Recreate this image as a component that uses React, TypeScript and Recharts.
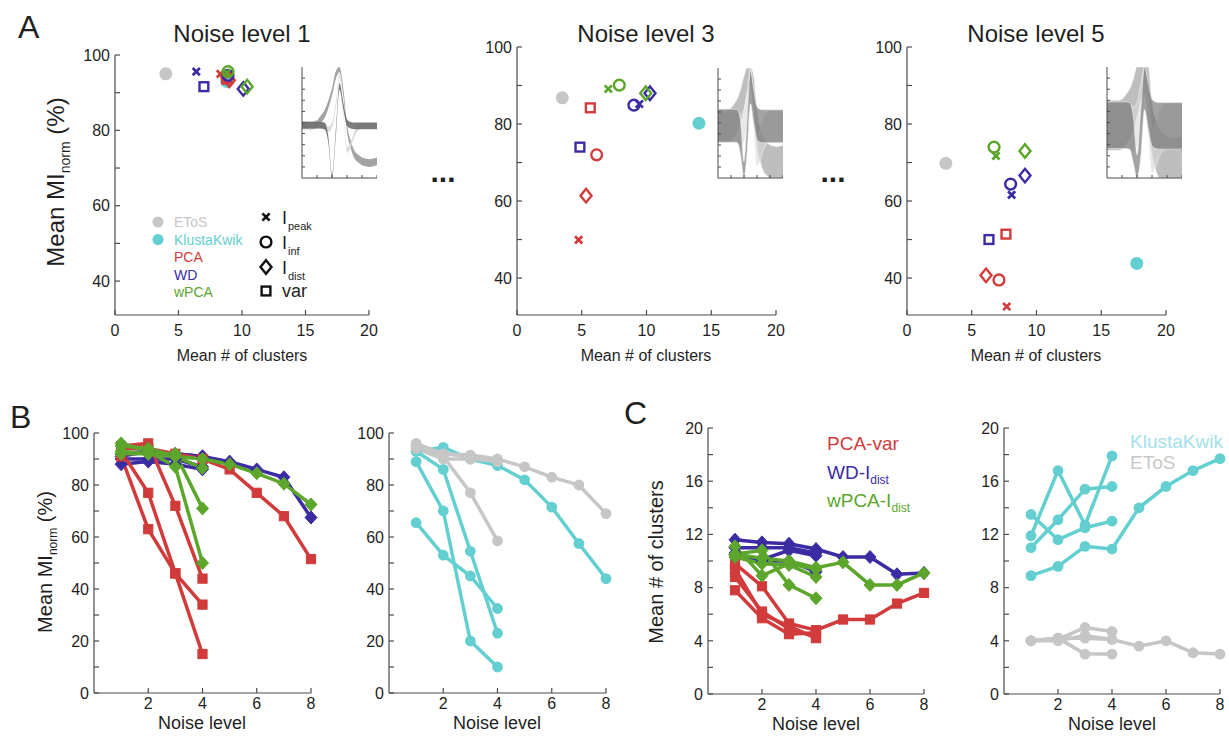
import React from "react";
import { Area, AreaChart, Line, LineChart, Scatter, ScatterChart, XAxis, YAxis } from "recharts";

const FONT = '"Liberation Sans", Arial, Helvetica, sans-serif';
const INK = "#1f1f1f";
const AXIS = "#4a4a4a";
const RED = "#d23b3b";
const BLUE = "#3b2ca3";
const GREEN = "#5ca62c";
const CYAN = "#64cfd0";
const GRAY = "#c6c6c6";

// ---------- panel A: [mean # clusters, mean MI_norm] ----------
// feature order for each method: I_peak, I_inf, I_dist, var (null = hidden)
type Pt = [number, number] | null;
const FEATURES = ["peak", "inf", "dist", "var"];

const L1_ETOS: Pt = [4.0, 95.0];
const L1_KK: Pt = [8.8, 93.0];
const L1_PCA: Pt[] = [[8.3, 95.0], [8.8, 94.2], [9.0, 93.3], [8.8, 93.6]];
const L1_WD: Pt[] = [[6.4, 95.6], [8.9, 94.6], [10.1, 91.0], [7.0, 91.6]];
const L1_WPCA: Pt[] = [[8.8, 95.3], [8.9, 95.6], [10.4, 91.6], null];

const L3_ETOS: Pt = [3.5, 86.8];
const L3_KK: Pt = [14.05, 80.2];
const L3_PCA: Pt[] = [[4.76, 49.9], [6.15, 72.0], [5.33, 61.4], [5.66, 84.2]];
const L3_WD: Pt[] = [[9.45, 85.2], [9.03, 84.9], [10.27, 88.0], [4.86, 74.0]];
const L3_WPCA: Pt[] = [[7.05, 89.1], [7.9, 90.1], [9.94, 88.0], null];

const L5_ETOS: Pt = [3.0, 69.8];
const L5_KK: Pt = [17.74, 43.8];
const L5_PCA: Pt[] = [[7.7, 32.6], [7.1, 39.5], [6.1, 40.7], [7.64, 51.4]];
const L5_WD: Pt[] = [[8.08, 61.6], [8.0, 64.4], [9.11, 66.6], [6.33, 50.0]];
const L5_WPCA: Pt[] = [[6.87, 71.7], [6.72, 74.0], [9.11, 73.0], null];

const A_XTICKS = [0, 5, 10, 15, 20];
const A_YTICKS = [40, 50, 60, 70, 80, 90, 100];

// inset waveforms (21 samples), three units
const SAMPLE = [0, 1, 2, 3, 4, 5, 6, 7, 8, 9, 10, 11, 12, 13, 14, 15, 16, 17, 18, 19, 20];
const WAVE_DARK = [-0.05, -0.05, -0.05, -0.05, -0.05, -0.05, -0.06, -0.3, -1.0, -0.2, 0.65, 0.3, 0.0, -0.05, -0.06, -0.06, -0.06, -0.06, -0.06, -0.06, -0.06];
const WAVE_MID = [-0.05, -0.05, -0.05, -0.05, -0.03, 0.05, 0.15, 0.32, 0.55, 0.85, 0.98, 0.55, -0.1, -0.4, -0.58, -0.65, -0.7, -0.72, -0.73, -0.72, -0.7];
const WAVE_LIGHT = [-0.06, -0.06, -0.06, -0.06, -0.06, -0.06, -0.08, -0.12, -0.05, 0.3, 0.85, 0.2, -0.5, -0.4, -0.2, -0.1, -0.06, -0.06, -0.06, -0.06, -0.06];
const BAND_L1 = [0.06, 0.07, 0.05];
const BAND_L3 = [0.3, 0.3, 0.28];
const BAND_L5 = [0.42, 0.45, 0.4];
const INSET_YTICKS = [-0.8, -0.6, -0.4, -0.2, 0, 0.2, 0.4, 0.6, 0.8];
const INSET_XTICKS = [4, 8, 12, 16, 20];

// ---------- panels B, C: per noise level ----------
const NOISE = [1, 2, 3, 4, 5, 6, 7, 8];
const LEVEL_XTICKS = [2, 4, 6, 8];

const PCA_VAR_MI = [
  [94, 94, 92, 90, 86, 77, 68, 51.5],
  [95, 96, 72, 44],
  [93, 77, 46, 15],
  [91, 63, 46, 34],
];
const WD_DIST_MI = [
  [92, 93, 92, 91, 89, 86, 83, 67.5],
  [88, 89, 88, 86],
  [91, 93, 92, 91],
  [90, 90, 90, 87],
];
const WPCA_DIST_MI = [
  [93, 92, 91, 90, 88, 84.5, 80.5, 72.5],
  [96, 93, 87, 50],
  [92, 92, 92, 71],
  [95, 94, 91, 86.5],
];
const KK_MI = [
  [93, 94.5, 90, 87.5, 82, 71.5, 57.5, 44],
  [89, 70, 20, 10],
  [93, 86, 54.5, 23],
  [65.5, 53, 45, 32.5],
];
const ETOS_MI = [
  [96, 92, 91.5, 90, 87, 83, 80, 69],
  [95, 91, 77, 58.5],
  [95, 92, 91, 89.5],
  [94, 90, 90, 89],
];

const PCA_VAR_NC = [
  [9.8, 8.1, 5.3, 4.8, 5.6, 5.6, 6.8, 7.6],
  [8.8, 6.2, 4.9, 4.3],
  [7.8, 5.7, 4.5, 4.6],
  [9.4, 6.0, 5.1, 4.2],
];
const WD_DIST_NC = [
  [11.6, 11.4, 11.3, 10.9, 10.3, 10.3, 9.0, 9.1],
  [10.5, 10.1, 10.8, 10.4],
  [10.6, 10.0, 10.0, 9.2],
  [11.0, 11.0, 11.0, 10.6],
];
const WPCA_DIST_NC = [
  [10.5, 10.2, 10.0, 9.5, 9.9, 8.2, 8.2, 9.1],
  [11.1, 8.9, 9.8, 9.4],
  [10.5, 10.8, 8.2, 7.2],
  [10.3, 9.8, 9.7, 8.8],
];
const KK_NC = [
  [8.9, 9.6, 11.1, 10.9, 14.0, 15.6, 16.8, 17.7],
  [13.5, 11.6, 12.5, 13.0],
  [11.9, 16.8, 12.7, 17.9],
  [11.0, 13.1, 15.4, 15.6],
];
const ETOS_NC = [
  [4.0, 4.2, 4.2, 4.1, 3.6, 4.0, 3.1, 3.0],
  [4.0, 4.1, 5.0, 4.7],
  [4.0, 4.2, 3.0, 3.0],
  [4.0, 4.0, 4.4, 4.1],
];

// ---------- layout ----------
const PAD_L = 60;
const PAD_T = 10;
const PAD_R = 16;
const PAD_B = 36;
const TICK = 5;

type Box = { x0: number; y0: number; x1: number; y1: number };

const yTick = (every: number) => (p: any) => {
  const v = Math.round(p.payload.value * 100) / 100;
  return (
    <g>
      <line x1={PAD_L} x2={PAD_L + TICK} y1={p.y} y2={p.y} stroke={AXIS} strokeWidth={1.2} />
      {v % every === 0 && (
        <text x={PAD_L - 5} y={p.y} dy="0.36em" textAnchor="end" fontSize={16} fill={INK} fontFamily={FONT}>
          {v}
        </text>
      )}
    </g>
  );
};

const xTick = (axisY: number, gap: number) => (p: any) => (
  <g>
    <line x1={p.x} x2={p.x} y1={axisY} y2={axisY - TICK} stroke={AXIS} strokeWidth={1.2} />
    <text x={p.x} y={axisY + gap} textAnchor="middle" fontSize={16} fill={INK} fontFamily={FONT}>
      {p.payload.value}
    </text>
  </g>
);

function Mark({ kind, color, cx, cy, filled = false }: any) {
  const sw = 2.4;
  if (kind === "dot") return <circle cx={cx} cy={cy} r={filled ? 5.4 : 6.5} fill={color} />;
  if (kind === "peak") {
    const d = 3.6;
    return (
      <path
        d={`M${cx - d},${cy - d}L${cx + d},${cy + d}M${cx - d},${cy + d}L${cx + d},${cy - d}`}
        stroke={color}
        strokeWidth={2.7}
      />
    );
  }
  if (kind === "inf") return <circle cx={cx} cy={cy} r={5.4} fill="none" stroke={color} strokeWidth={sw} />;
  if (kind === "dist") {
    const w = filled ? 6 : 5.5;
    const h = filled ? 6.5 : 6.8;
    return (
      <path
        d={`M${cx},${cy - h}L${cx + w},${cy}L${cx},${cy + h}L${cx - w},${cy}Z`}
        fill={filled ? color : "none"}
        stroke={color}
        strokeWidth={filled ? 1 : sw}
      />
    );
  }
  const s = filled ? 4.6 : 4.4;
  return (
    <rect
      x={cx - s}
      y={cy - s}
      width={2 * s}
      height={2 * s}
      fill={filled ? color : "none"}
      stroke={color}
      strokeWidth={filled ? 1 : sw}
    />
  );
}

function levelSeries(etos: Pt, kk: Pt, pca: Pt[], wd: Pt[], wpca: Pt[]) {
  const out: { key: string; pt: Pt; kind: string; color: string }[] = [
    { key: "etos", pt: etos, kind: "dot", color: GRAY },
    { key: "kk", pt: kk, kind: "dot", color: CYAN },
  ];
  const methods: [Pt[], string][] = [[pca, RED], [wd, BLUE], [wpca, GREEN]];
  methods.forEach(([arr, color], mi) =>
    arr.forEach((pt, fi) => out.push({ key: `m${mi}f${fi}`, pt, kind: FEATURES[fi], color }))
  );
  return out.filter((s) => s.pt);
}

function ClusterPanel({ box, yMin, series }: { box: Box; yMin: number; series: ReturnType<typeof levelSeries> }) {
  const w = box.x1 - box.x0 + PAD_L + PAD_R;
  const h = box.y1 - box.y0 + PAD_T + PAD_B;
  const axisY = PAD_T + box.y1 - box.y0;
  return (
    <div style={{ position: "absolute", left: box.x0 - PAD_L, top: box.y0 - PAD_T }}>
      <ScatterChart width={w} height={h} margin={{ top: PAD_T, right: PAD_R, left: 0, bottom: 0 }}>
        <XAxis
          type="number"
          dataKey="x"
          domain={[0, 20]}
          ticks={A_XTICKS}
          interval={0}
          height={PAD_B}
          tickLine={false}
          axisLine={{ stroke: AXIS, strokeWidth: 1.2 }}
          tick={xTick(axisY, 21)}
          allowDataOverflow
        />
        <YAxis
          type="number"
          dataKey="y"
          domain={[yMin, 100]}
          ticks={A_YTICKS}
          interval={0}
          width={PAD_L}
          tickLine={false}
          axisLine={{ stroke: AXIS, strokeWidth: 1.2 }}
          tick={yTick(20)}
          allowDataOverflow
        />
        {series.map((s) => (
          <Scatter
            key={s.key}
            data={[{ x: (s.pt as number[])[0], y: (s.pt as number[])[1] }]}
            isAnimationActive={false}
            shape={(p: any) => <Mark kind={s.kind} color={s.color} cx={p.cx} cy={p.cy} />}
          />
        ))}
      </ScatterChart>
    </div>
  );
}

const IN_PAD = 3;

function Inset({ box, band, edge, opacity }: { box: Box; band: number[]; edge: string; opacity: number }) {
  const w = box.x1 - box.x0;
  const h = box.y1 - box.y0;
  const lim = (v: number) => Math.max(-1, Math.min(1, v));
  const rows = SAMPLE.map((s, i) => ({
    s,
    dark: [lim(WAVE_DARK[i] - band[0]), lim(WAVE_DARK[i] + band[0])],
    mid: [lim(WAVE_MID[i] - band[1]), lim(WAVE_MID[i] + band[1])],
    light: [lim(WAVE_LIGHT[i] - band[2]), lim(WAVE_LIGHT[i] + band[2])],
  }));
  const axisY = h;
  return (
    <div style={{ position: "absolute", left: box.x0 - IN_PAD, top: box.y0 }}>
      <AreaChart width={w + IN_PAD} height={h + IN_PAD} data={rows} margin={{ top: 0, right: 0, left: 0, bottom: 0 }}>
        <XAxis
          type="number"
          dataKey="s"
          domain={[0, 20]}
          ticks={INSET_XTICKS}
          interval={0}
          height={IN_PAD}
          tickLine={false}
          axisLine={{ stroke: AXIS, strokeWidth: 1 }}
          tick={(p: any) => <line x1={p.x} x2={p.x} y1={axisY} y2={axisY - 3} stroke={AXIS} />}
        />
        <YAxis
          type="number"
          domain={[-1, 1]}
          ticks={INSET_YTICKS}
          interval={0}
          width={IN_PAD}
          tickLine={false}
          axisLine={{ stroke: AXIS, strokeWidth: 1 }}
          tick={(p: any) => <line x1={IN_PAD} x2={IN_PAD + 3} y1={p.y} y2={p.y} stroke={AXIS} />}
          allowDataOverflow
        />
        <Area type="monotone" dataKey="mid" fill="#939393" fillOpacity={opacity} stroke={edge} strokeWidth={0.6} isAnimationActive={false} />
        <Area type="monotone" dataKey="light" fill="#d8d8d8" fillOpacity={opacity} stroke={edge} strokeWidth={0.6} isAnimationActive={false} />
        <Area type="monotone" dataKey="dark" fill="#666666" fillOpacity={opacity} stroke={edge} strokeWidth={0.6} isAnimationActive={false} />
      </AreaChart>
    </div>
  );
}

type Group = { color: string; kind: string; series: number[][] };

function LevelPanel({ box, yMax, yTicks, labelEvery, groups }: { box: Box; yMax: number; yTicks: number[]; labelEvery: number; groups: Group[] }) {
  const w = box.x1 - box.x0 + PAD_L + PAD_R;
  const h = box.y1 - box.y0 + PAD_T + PAD_B;
  const axisY = PAD_T + box.y1 - box.y0;
  const rows = NOISE.map((n, i) => {
    const r: Record<string, number | undefined> = { noise: n };
    groups.forEach((g, gi) => g.series.forEach((s, si) => (r[`g${gi}s${si}`] = s[i])));
    return r;
  });
  return (
    <div style={{ position: "absolute", left: box.x0 - PAD_L, top: box.y0 - PAD_T }}>
      <LineChart width={w} height={h} data={rows} margin={{ top: PAD_T, right: PAD_R, left: 0, bottom: 0 }}>
        <XAxis
          type="number"
          dataKey="noise"
          domain={[0, 8]}
          ticks={LEVEL_XTICKS}
          interval={0}
          height={PAD_B}
          tickLine={false}
          axisLine={{ stroke: AXIS, strokeWidth: 1.2 }}
          tick={xTick(axisY, 16)}
        />
        <YAxis
          type="number"
          domain={[0, yMax]}
          ticks={yTicks}
          interval={0}
          width={PAD_L}
          tickLine={false}
          axisLine={{ stroke: AXIS, strokeWidth: 1.2 }}
          tick={yTick(labelEvery)}
          allowDataOverflow
        />
        {groups.map((g, gi) =>
          g.series.map((_, si) => (
            <Line
              key={`g${gi}s${si}`}
              dataKey={`g${gi}s${si}`}
              stroke={g.color}
              strokeWidth={3.5}
              activeDot={false}
              isAnimationActive={false}
              dot={(p: any) =>
                p.cy == null || p.value == null ? (
                  <g key={`e${gi}-${si}-${p.index}`} />
                ) : (
                  <Mark key={`d${gi}-${si}-${p.index}`} kind={g.kind} color={g.color} cx={p.cx} cy={p.cy} filled />
                )
              }
            />
          ))
        )}
      </LineChart>
    </div>
  );
}

const MI_TICKS = [0, 10, 20, 30, 40, 50, 60, 70, 80, 90, 100];
const NC_TICKS = [0, 2, 4, 6, 8, 10, 12, 14, 16, 18, 20];

const tx = { fontFamily: FONT, fill: INK };

export default function App() {
  return (
    <div style={{ position: "relative", width: 1229, height: 740, background: "#fff", overflow: "hidden" }}>
      <style>{"body{margin:0}"}</style>

      <ClusterPanel box={{ x0: 115, y0: 55, x1: 369, y1: 315 }} yMin={31} series={levelSeries(L1_ETOS, L1_KK, L1_PCA, L1_WD, L1_WPCA)} />
      <ClusterPanel box={{ x0: 517, y0: 47, x1: 776, y1: 315 }} yMin={30.4} series={levelSeries(L3_ETOS, L3_KK, L3_PCA, L3_WD, L3_WPCA)} />
      <ClusterPanel box={{ x0: 907, y0: 47, x1: 1166, y1: 315 }} yMin={30.4} series={levelSeries(L5_ETOS, L5_KK, L5_PCA, L5_WD, L5_WPCA)} />

      <Inset box={{ x0: 302, y0: 67, x1: 377, y1: 178 }} band={BAND_L1} edge="none" opacity={0.85} />
      <Inset box={{ x0: 718, y0: 68, x1: 783, y1: 178 }} band={BAND_L3} edge="#f0f0f0" opacity={0.6} />
      <Inset box={{ x0: 1107, y0: 67, x1: 1182, y1: 178 }} band={BAND_L5} edge="#f0f0f0" opacity={0.6} />

      <LevelPanel
        box={{ x0: 94, y0: 433, x1: 311, y1: 693 }}
        yMax={100}
        yTicks={MI_TICKS}
        labelEvery={20}
        groups={[
          { color: BLUE, kind: "dist", series: WD_DIST_MI },
          { color: RED, kind: "var", series: PCA_VAR_MI },
          { color: GREEN, kind: "dist", series: WPCA_DIST_MI },
        ]}
      />
      <LevelPanel
        box={{ x0: 389, y0: 433, x1: 606, y1: 693 }}
        yMax={100}
        yTicks={MI_TICKS}
        labelEvery={20}
        groups={[
          { color: CYAN, kind: "dot", series: KK_MI },
          { color: GRAY, kind: "dot", series: ETOS_MI },
        ]}
      />
      <LevelPanel
        box={{ x0: 708, y0: 428, x1: 924, y1: 694 }}
        yMax={20}
        yTicks={NC_TICKS}
        labelEvery={4}
        groups={[
          { color: RED, kind: "var", series: PCA_VAR_NC },
          { color: BLUE, kind: "dist", series: WD_DIST_NC },
          { color: GREEN, kind: "dist", series: WPCA_DIST_NC },
        ]}
      />
      <LevelPanel
        box={{ x0: 1004, y0: 428, x1: 1220, y1: 694 }}
        yMax={20}
        yTicks={NC_TICKS}
        labelEvery={4}
        groups={[
          { color: CYAN, kind: "dot", series: KK_NC },
          { color: GRAY, kind: "dot", series: ETOS_NC },
        ]}
      />

      <svg width={1229} height={740} style={{ position: "absolute", left: 0, top: 0, pointerEvents: "none" }}>
        {/* panel letters */}
        <text x={18} y={38} fontSize={32} {...tx}>A</text>
        <text x={10} y={428} fontSize={32} {...tx}>B</text>
        <text x={624} y={424} fontSize={32} {...tx}>C</text>

        {/* titles */}
        <text x={242} y={42} fontSize={24} textAnchor="middle" {...tx}>Noise level 1</text>
        <text x={646} y={42} fontSize={24} textAnchor="middle" {...tx}>Noise level 3</text>
        <text x={1036} y={42} fontSize={24} textAnchor="middle" {...tx}>Noise level 5</text>

        {/* axis titles */}
        <text transform="translate(64,182) rotate(-90)" fontSize={24} textAnchor="middle" {...tx}>
          Mean MI<tspan fontSize={14} dy={6}>norm</tspan>
          <tspan dy={-6}> (%)</tspan>
        </text>
        <text x={242} y={361} fontSize={16} textAnchor="middle" {...tx}>Mean # of clusters</text>
        <text x={646} y={361} fontSize={16} textAnchor="middle" {...tx}>Mean # of clusters</text>
        <text x={1036} y={361} fontSize={16} textAnchor="middle" {...tx}>Mean # of clusters</text>

        <text transform="translate(52,562) rotate(-90)" fontSize={20} textAnchor="middle" {...tx}>
          Mean MI<tspan fontSize={12} dy={5}>norm</tspan>
          <tspan dy={-5}> (%)</tspan>
        </text>
        <text transform="translate(663,562) rotate(-90)" fontSize={20} textAnchor="middle" {...tx}>Mean # of clusters</text>
        <text x={202} y={729} fontSize={18} textAnchor="middle" {...tx}>Noise level</text>
        <text x={497} y={729} fontSize={18} textAnchor="middle" {...tx}>Noise level</text>
        <text x={816} y={730} fontSize={18} textAnchor="middle" {...tx}>Noise level</text>
        <text x={1112} y={730} fontSize={18} textAnchor="middle" {...tx}>Noise level</text>

        {/* ellipses between noise levels */}
        <text x={443} y={182} fontSize={30} fontWeight="bold" textAnchor="middle" {...tx}>...</text>
        <text x={833} y={182} fontSize={30} fontWeight="bold" textAnchor="middle" {...tx}>...</text>

        {/* panel A legend: methods */}
        <circle cx={158} cy={222} r={5.5} fill={GRAY} />
        <circle cx={158} cy={239.5} r={5.5} fill={CYAN} />
        <text x={174} y={227} fontSize={14} fontFamily={FONT} fill={GRAY}>EToS</text>
        <text x={174} y={244.5} fontSize={14} fontFamily={FONT} fill={CYAN}>KlustaKwik</text>
        <text x={174} y={262} fontSize={14} fontFamily={FONT} fill={RED}>PCA</text>
        <text x={174} y={279.5} fontSize={14} fontFamily={FONT} fill={BLUE}>WD</text>
        <text x={174} y={297} fontSize={14} fontFamily={FONT} fill={GREEN}>wPCA</text>

        {/* panel A legend: features */}
        <Mark kind="peak" color="#111" cx={266} cy={217} />
        <Mark kind="inf" color="#111" cx={266} cy={242} />
        <Mark kind="dist" color="#111" cx={266} cy={267} />
        <Mark kind="var" color="#111" cx={266} cy={291} />
        <text x={282} y={224} fontSize={18} {...tx}>I</text>
        <text x={288} y={230} fontSize={11} {...tx}>peak</text>
        <text x={282} y={249} fontSize={18} {...tx}>I</text>
        <text x={288} y={255} fontSize={11} {...tx}>inf</text>
        <text x={282} y={274} fontSize={18} {...tx}>I</text>
        <text x={288} y={280} fontSize={11} {...tx}>dist</text>
        <text x={282} y={297} fontSize={18} {...tx}>var</text>

        {/* panel C legends */}
        <text x={827} y={450} fontSize={19} fontFamily={FONT} fill={RED}>PCA-var</text>
        <text x={827} y={479} fontSize={19} fontFamily={FONT} fill={BLUE}>
          WD-I<tspan fontSize={12} dy={5}>dist</tspan>
        </text>
        <text x={827} y={507} fontSize={19} fontFamily={FONT} fill={GREEN}>
          wPCA-I<tspan fontSize={12} dy={5}>dist</tspan>
        </text>
        <text x={1130} y={448} fontSize={19} fontFamily={FONT} fill="#a2e1ea">KlustaKwik</text>
        <text x={1130} y={469} fontSize={19} fontFamily={FONT} fill="#c8c8c8">EToS</text>
      </svg>
    </div>
  );
}
